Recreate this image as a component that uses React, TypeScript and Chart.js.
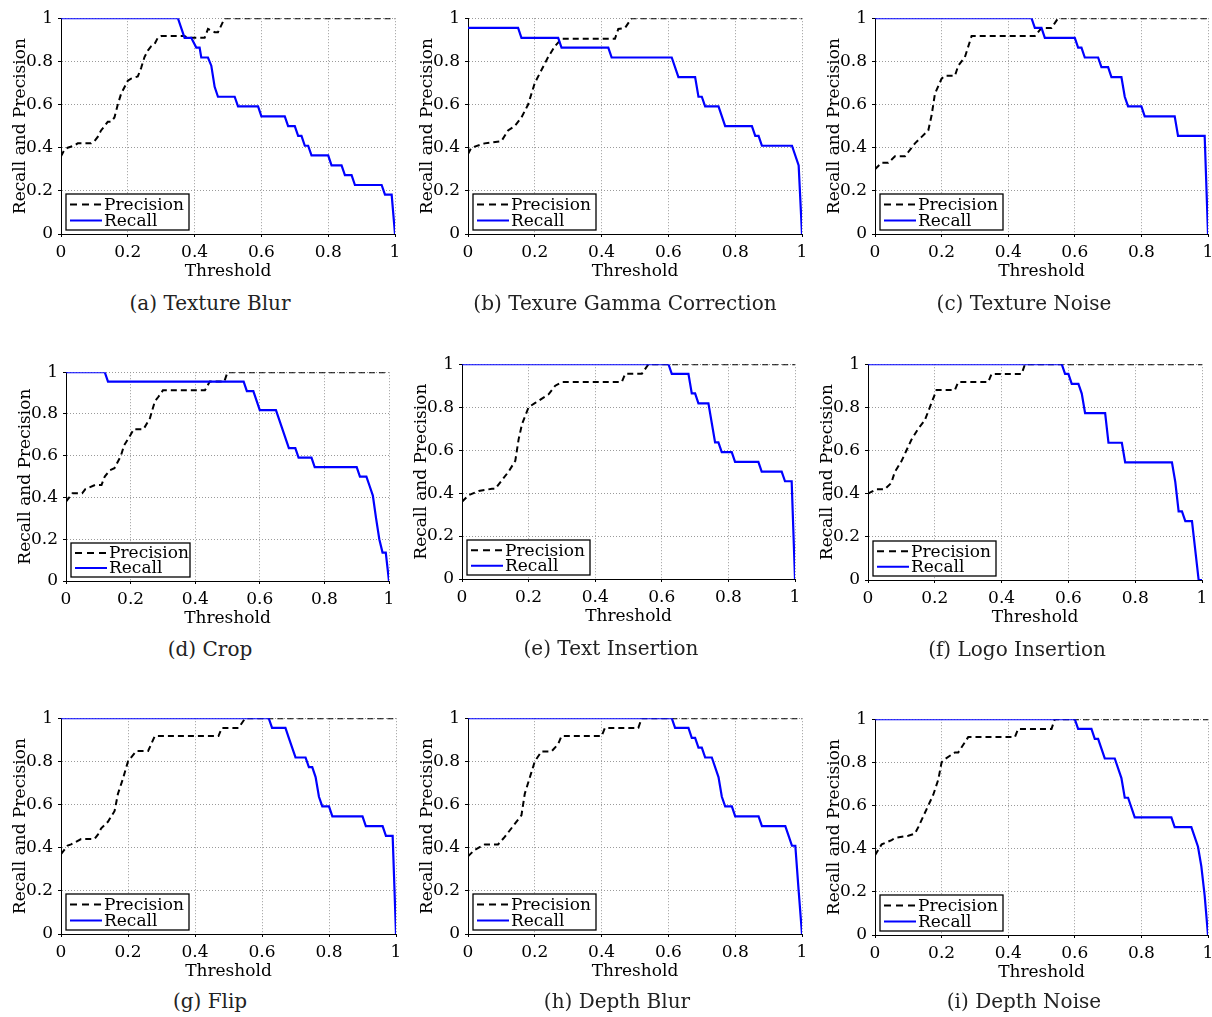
import React, { useEffect, useRef } from 'react';
import { Chart, registerables } from 'chart.js';

Chart.register(...registerables);

type Pt = [number, number];

// ---------- categories / labels ----------
const panelTitles = [
  '(a) Texture Blur',
  '(b) Texure Gamma Correction',
  '(c) Texture Noise',
  '(d) Crop',
  '(e) Text Insertion',
  '(f) Logo Insertion',
  '(g) Flip',
  '(h) Depth Blur',
  '(i) Depth Noise',
];
const seriesNames = ['Precision', 'Recall'];
const xTickValues = [0, 0.2, 0.4, 0.6, 0.8, 1];
const yTickValues = [0, 0.2, 0.4, 0.6, 0.8, 1];
const tickLabels = ['0', '0.2', '0.4', '0.6', '0.8', '1'];
const xAxisTitle = 'Threshold';
const yAxisTitle = 'Recall and Precision';

// ---------- series: [threshold, value] ----------
const textureBlurPrecision: Pt[] = [[0,0.36],[0.01,0.39],[0.02,0.4],[0.04,0.41],[0.05,0.42],[0.09,0.42],[0.1,0.43],[0.11,0.45],[0.12,0.48],[0.13,0.5],[0.14,0.52],[0.15,0.52],[0.16,0.54],[0.17,0.6],[0.18,0.65],[0.19,0.68],[0.2,0.71],[0.21,0.72],[0.23,0.73],[0.24,0.77],[0.25,0.82],[0.26,0.85],[0.27,0.87],[0.28,0.88],[0.29,0.91],[0.3,0.917],[0.37,0.917],[0.38,0.909],[0.43,0.909],[0.44,0.95],[0.46,0.935],[0.47,0.935],[0.49,1],[1,1]];
const textureBlurRecall: Pt[] = [[0,1],[0.35,1],[0.37,0.909],[0.39,0.909],[0.405,0.864],[0.415,0.864],[0.42,0.818],[0.44,0.818],[0.45,0.78],[0.46,0.682],[0.47,0.636],[0.52,0.636],[0.53,0.591],[0.59,0.591],[0.6,0.545],[0.67,0.545],[0.68,0.5],[0.7,0.5],[0.71,0.455],[0.72,0.455],[0.73,0.409],[0.74,0.409],[0.75,0.364],[0.8,0.364],[0.81,0.318],[0.84,0.318],[0.85,0.273],[0.87,0.273],[0.88,0.227],[0.96,0.227],[0.97,0.182],[0.99,0.182],[1,0]];

const gammaPrecision: Pt[] = [[0,0.37],[0.01,0.4],[0.05,0.42],[0.1,0.43],[0.12,0.48],[0.14,0.5],[0.16,0.54],[0.18,0.6],[0.2,0.7],[0.22,0.76],[0.24,0.82],[0.26,0.87],[0.28,0.905],[0.44,0.905],[0.45,0.95],[0.47,0.955],[0.49,1],[1,1]];
const gammaRecall: Pt[] = [[0,0.955],[0.15,0.955],[0.16,0.909],[0.27,0.909],[0.28,0.864],[0.42,0.864],[0.43,0.818],[0.61,0.818],[0.63,0.727],[0.68,0.727],[0.69,0.636],[0.7,0.636],[0.71,0.591],[0.75,0.591],[0.77,0.5],[0.85,0.5],[0.86,0.455],[0.87,0.455],[0.88,0.409],[0.97,0.409],[0.99,0.318],[1,0]];

const textureNoisePrecision: Pt[] = [[0,0.3],[0.02,0.33],[0.04,0.33],[0.06,0.36],[0.09,0.36],[0.1,0.38],[0.12,0.42],[0.14,0.45],[0.16,0.48],[0.17,0.55],[0.18,0.65],[0.2,0.72],[0.21,0.733],[0.24,0.733],[0.25,0.78],[0.27,0.82],[0.29,0.917],[0.48,0.917],[0.5,0.955],[0.53,0.955],[0.55,1],[1,1]];
const textureNoiseRecall: Pt[] = [[0,1],[0.47,1],[0.48,0.955],[0.5,0.955],[0.51,0.909],[0.6,0.909],[0.61,0.864],[0.62,0.864],[0.63,0.818],[0.67,0.818],[0.68,0.773],[0.7,0.773],[0.71,0.727],[0.74,0.727],[0.75,0.636],[0.76,0.591],[0.8,0.591],[0.81,0.545],[0.9,0.545],[0.91,0.455],[0.99,0.455],[1,0]];

const cropPrecision: Pt[] = [[0,0.38],[0.02,0.42],[0.05,0.42],[0.06,0.44],[0.09,0.46],[0.11,0.46],[0.12,0.5],[0.135,0.53],[0.15,0.54],[0.17,0.6],[0.18,0.65],[0.2,0.7],[0.21,0.727],[0.24,0.727],[0.26,0.78],[0.275,0.86],[0.285,0.88],[0.3,0.913],[0.43,0.913],[0.445,0.955],[0.49,0.955],[0.5,1],[1,1]];
const cropRecall: Pt[] = [[0,1],[0.12,1],[0.13,0.955],[0.55,0.955],[0.56,0.909],[0.58,0.909],[0.6,0.818],[0.65,0.818],[0.69,0.636],[0.71,0.636],[0.72,0.591],[0.76,0.591],[0.77,0.545],[0.9,0.545],[0.91,0.5],[0.93,0.5],[0.94,0.455],[0.95,0.409],[0.96,0.3],[0.97,0.2],[0.98,0.136],[0.99,0.136],[1,0]];

const textInsertionPrecision: Pt[] = [[0,0.36],[0.02,0.39],[0.05,0.41],[0.09,0.42],[0.1,0.42],[0.12,0.46],[0.14,0.5],[0.16,0.55],[0.17,0.65],[0.18,0.72],[0.2,0.8],[0.22,0.82],[0.26,0.86],[0.28,0.9],[0.3,0.917],[0.48,0.917],[0.49,0.955],[0.54,0.955],[0.56,1],[1,1]];
const textInsertionRecall: Pt[] = [[0,1],[0.62,1],[0.63,0.955],[0.68,0.955],[0.69,0.864],[0.7,0.864],[0.71,0.818],[0.74,0.818],[0.76,0.636],[0.77,0.636],[0.78,0.591],[0.81,0.591],[0.82,0.545],[0.89,0.545],[0.9,0.5],[0.96,0.5],[0.97,0.455],[0.99,0.455],[1,0]];

const logoInsertionPrecision: Pt[] = [[0,0.4],[0.025,0.42],[0.05,0.42],[0.07,0.45],[0.08,0.5],[0.1,0.55],[0.115,0.6],[0.13,0.65],[0.15,0.7],[0.165,0.73],[0.17,0.74],[0.185,0.8],[0.205,0.88],[0.26,0.88],[0.27,0.917],[0.36,0.917],[0.37,0.955],[0.46,0.955],[0.47,1],[1,1]];
const logoInsertionRecall: Pt[] = [[0,1],[0.58,1],[0.59,0.955],[0.6,0.955],[0.61,0.909],[0.63,0.909],[0.64,0.864],[0.65,0.773],[0.71,0.773],[0.72,0.636],[0.76,0.636],[0.77,0.545],[0.91,0.545],[0.92,0.455],[0.93,0.318],[0.94,0.318],[0.95,0.273],[0.97,0.273],[0.99,0],[1,0]];

const flipPrecision: Pt[] = [[0,0.37],[0.02,0.41],[0.03,0.415],[0.06,0.44],[0.1,0.44],[0.11,0.46],[0.12,0.49],[0.14,0.52],[0.16,0.57],[0.17,0.65],[0.185,0.72],[0.2,0.8],[0.225,0.848],[0.26,0.848],[0.28,0.917],[0.47,0.917],[0.48,0.955],[0.53,0.955],[0.55,1],[1,1]];
const flipRecall: Pt[] = [[0,1],[0.62,1],[0.63,0.955],[0.67,0.955],[0.68,0.909],[0.69,0.864],[0.7,0.818],[0.73,0.818],[0.74,0.773],[0.75,0.773],[0.76,0.727],[0.77,0.636],[0.78,0.591],[0.8,0.591],[0.81,0.545],[0.9,0.545],[0.91,0.5],[0.96,0.5],[0.97,0.455],[0.99,0.455],[1,0]];

const depthBlurPrecision: Pt[] = [[0,0.36],[0.02,0.39],[0.05,0.415],[0.09,0.415],[0.11,0.45],[0.12,0.47],[0.14,0.51],[0.16,0.55],[0.17,0.65],[0.19,0.75],[0.2,0.8],[0.22,0.846],[0.25,0.846],[0.27,0.88],[0.28,0.917],[0.4,0.917],[0.41,0.955],[0.51,0.955],[0.52,1],[1,1]];
const depthBlurRecall: Pt[] = [[0,1],[0.61,1],[0.62,0.955],[0.66,0.955],[0.67,0.909],[0.68,0.909],[0.69,0.864],[0.7,0.864],[0.71,0.818],[0.73,0.818],[0.75,0.727],[0.76,0.636],[0.77,0.591],[0.79,0.591],[0.8,0.545],[0.87,0.545],[0.88,0.5],[0.95,0.5],[0.96,0.455],[0.97,0.409],[0.98,0.409],[0.99,0.2],[1,0]];

const depthNoisePrecision: Pt[] = [[0,0.37],[0.02,0.42],[0.05,0.44],[0.06,0.45],[0.1,0.46],[0.12,0.47],[0.13,0.5],[0.145,0.55],[0.16,0.6],[0.175,0.65],[0.19,0.72],[0.2,0.8],[0.21,0.815],[0.24,0.846],[0.25,0.846],[0.28,0.917],[0.42,0.917],[0.43,0.955],[0.53,0.955],[0.54,1],[1,1]];
const depthNoiseRecall: Pt[] = [[0,1],[0.6,1],[0.61,0.955],[0.65,0.955],[0.66,0.909],[0.67,0.909],[0.69,0.818],[0.72,0.818],[0.74,0.727],[0.75,0.636],[0.76,0.636],[0.78,0.545],[0.89,0.545],[0.9,0.5],[0.95,0.5],[0.96,0.455],[0.97,0.409],[0.98,0.318],[0.99,0.182],[1,0]];

const precisionSeries = [textureBlurPrecision, gammaPrecision, textureNoisePrecision, cropPrecision, textInsertionPrecision, logoInsertionPrecision, flipPrecision, depthBlurPrecision, depthNoisePrecision];
const recallSeries = [textureBlurRecall, gammaRecall, textureNoiseRecall, cropRecall, textInsertionRecall, logoInsertionRecall, flipRecall, depthBlurRecall, depthNoiseRecall];

// ---------- layout (page pixels) ----------
type Layout = { L: number; T: number; R: number; B: number; capX: number; capY: number; legW: number; legH: number };
const layouts: Layout[] = [
  { L: 61, T: 17, R: 395, B: 234, capX: 210, capY: 303, legW: 123, legH: 36 },
  { L: 468, T: 17, R: 802, B: 234, capX: 625, capY: 303, legW: 123, legH: 36 },
  { L: 875, T: 17, R: 1208, B: 234, capX: 1024, capY: 303, legW: 123, legH: 36 },
  { L: 66, T: 371, R: 389, B: 581, capX: 210, capY: 649, legW: 119, legH: 34 },
  { L: 462, T: 363, R: 795, B: 579, capX: 611, capY: 648, legW: 123, legH: 35 },
  { L: 868, T: 363, R: 1202, B: 580, capX: 1017, capY: 649, legW: 123, legH: 35 },
  { L: 61, T: 717, R: 396, B: 934, capX: 210, capY: 1001, legW: 123, legH: 36 },
  { L: 468, T: 717, R: 802, B: 934, capX: 617, capY: 1001, legW: 123, legH: 36 },
  { L: 875, T: 718, R: 1208, B: 935, capX: 1024, capY: 1001, legW: 123, legH: 36 },
];

const FONT_FAMILY = '"DejaVu Serif", serif';
const BLUE = '#0000ff';
const Y_AXIS_W = 60;
const X_AXIS_H = 50;
const PAD_TOP = 14;
const PAD_RIGHT = 14;

function Panel({ index }: { index: number }) {
  const ref = useRef<HTMLCanvasElement | null>(null);
  const lay = layouts[index];
  const W = Y_AXIS_W + (lay.R - lay.L) + PAD_RIGHT;
  const H = PAD_TOP + (lay.B - lay.T) + X_AXIS_H;

  useEffect(() => {
    if (!ref.current) return;
    const legendPlugin = {
      id: 'boxLegend',
      afterDatasetsDraw(chart: any) {
        const { ctx, chartArea } = chart;
        const bx = chartArea.left + 5;
        const by = chartArea.bottom - 4 - lay.legH;
        ctx.save();
        ctx.fillStyle = '#ffffff';
        ctx.fillRect(bx, by, lay.legW, lay.legH);
        ctx.strokeStyle = '#000';
        ctx.lineWidth = 1.3;
        ctx.strokeRect(bx, by, lay.legW, lay.legH);
        const ds = chart.data.datasets;
        const rows = [ds[1], ds[0]]; // Precision first, then Recall
        const rowGap = (lay.legH - 4) / 2;
        rows.forEach((d: any, i: number) => {
          const ry = by + 2 + rowGap * (i + 0.5) + 0.5;
          ctx.beginPath();
          ctx.setLineDash(i === 0 ? [7, 5] : []);
          ctx.strokeStyle = d.borderColor;
          ctx.lineWidth = 2;
          ctx.moveTo(bx + 4, ry);
          ctx.lineTo(bx + 36, ry);
          ctx.stroke();
          ctx.setLineDash([]);
          ctx.fillStyle = '#000';
          ctx.font = `17px ${FONT_FAMILY}`;
          ctx.textBaseline = 'middle';
          ctx.textAlign = 'left';
          ctx.fillText(d.label, bx + 38, ry + 1);
        });
        ctx.restore();
      },
    };

    const axisCommon = (title: string, values: number[], isX: boolean) => ({
      type: 'linear' as const,
      min: 0,
      max: 1,
      afterBuildTicks: (s: any) => {
        s.ticks = values.map((v) => ({ value: v }));
      },
      afterFit: (s: any) => {
        if (isX) s.height = X_AXIS_H;
        else s.width = Y_AXIS_W;
      },
      ticks: {
        autoSkip: false,
        maxRotation: 0,
        padding: 5,
        color: '#000',
        font: { family: FONT_FAMILY, size: 17 },
        callback: (_v: any, i: number) => tickLabels[i],
      },
      grid: {
        color: '#9a9a9a',
        lineWidth: 1,
        drawTicks: true,
        tickLength: 3,
        tickColor: '#000',
      },
      border: { display: true, color: '#000', width: 1, dash: [1, 2] },
      title: {
        display: true,
        text: title,
        color: '#000',
        font: { family: FONT_FAMILY, size: 17 },
        padding: isX ? { top: 0, bottom: 2 } : { top: 9, bottom: 0 },
      },
    });

    const chart = new Chart(ref.current, {
      type: 'line',
      data: {
        datasets: [
          {
            label: seriesNames[1],
            data: recallSeries[index].map(([x, y]) => ({ x, y })),
            borderColor: BLUE,
            backgroundColor: BLUE,
            borderWidth: 2.2,
            pointRadius: 0,
            tension: 0,
            fill: false,
          },
          {
            label: seriesNames[0],
            data: precisionSeries[index].map(([x, y]) => ({ x, y })),
            borderColor: '#000000',
            backgroundColor: '#000000',
            borderWidth: 2,
            borderDash: [6, 4],
            pointRadius: 0,
            tension: 0,
            fill: false,
          },
        ],
      },
      options: {
        responsive: false,
        animation: false,
        devicePixelRatio: 1,
        events: [],
        layout: { padding: { top: PAD_TOP, right: PAD_RIGHT, left: 0, bottom: 0 } },
        plugins: {
          legend: { display: false },
          tooltip: { enabled: false },
          title: { display: false },
        },
        scales: {
          x: axisCommon(xAxisTitle, xTickValues, true),
          y: axisCommon(yAxisTitle, yTickValues, false),
        },
      } as any,
      plugins: [legendPlugin],
    });
    return () => chart.destroy();
  }, [index]);

  return (
    <>
      <canvas
        ref={ref}
        width={W}
        height={H}
        style={{
          position: 'absolute',
          left: lay.L - Y_AXIS_W,
          top: lay.T - PAD_TOP,
          width: W,
          height: H,
        }}
      />
      <div
        style={{
          position: 'absolute',
          left: lay.capX - 200,
          top: lay.capY - 12,
          width: 400,
          height: 24,
          lineHeight: '24px',
          textAlign: 'center',
          fontFamily: FONT_FAMILY,
          fontSize: 20,
          color: '#222',
          whiteSpace: 'nowrap',
        }}
      >
        {panelTitles[index]}
      </div>
    </>
  );
}

export default function App() {
  return (
    <div
      style={{
        position: 'absolute',
        left: 0,
        top: 0,
        width: 1212,
        height: 1017,
        overflow: 'hidden',
        background: '#ffffff',
      }}
    >
      {panelTitles.map((_, i) => (
        <Panel key={i} index={i} />
      ))}
    </div>
  );
}
